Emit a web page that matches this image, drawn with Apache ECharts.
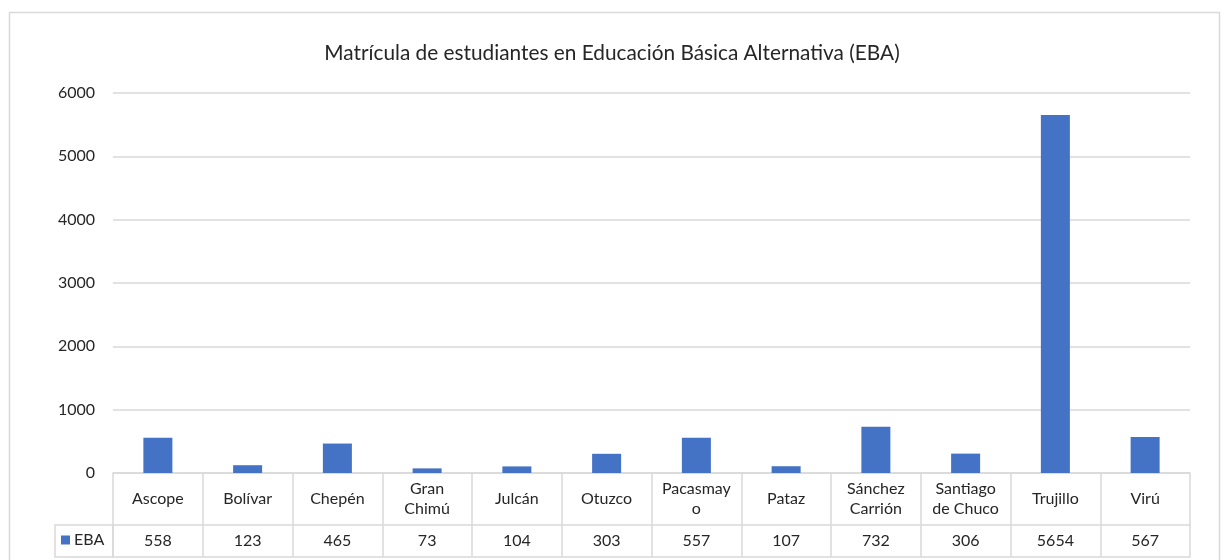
<!DOCTYPE html>
<html>
<head>
<meta charset="utf-8">
<script src="https://cdn.jsdelivr.net/npm/echarts@6/dist/echarts.min.js"></script>
<style>
  html, body { margin: 0; padding: 0; background: #fff; }
  #chart { width: 1224px; height: 560px; }
</style>
</head>
<body>
<div id="chart"></div>
<script>
// Provinces of La Libertad (display labels, wrapped as in the data table)
const categories = ['Ascope', 'Bolívar', 'Chepén', 'Gran\nChimú', 'Julcán', 'Otuzco',
  'Pacasmay\no', 'Pataz', 'Sánchez\nCarrión', 'Santiago\nde Chuco', 'Trujillo', 'Virú'];
// EBA enrolment per province
const ebaValues = [558, 123, 465, 73, 104, 303, 557, 107, 732, 306, 5654, 567];
const seriesName = 'EBA';
const yTicks = [0, 1000, 2000, 3000, 4000, 5000, 6000];

const FONT = 'Lato, "Noto Sans", sans-serif';
const LINE = '#d9d9d9';
const TEXT = '#262626';

const chart = echarts.init(document.getElementById('chart'), null, { renderer: 'canvas' });

chart.setOption({
  animation: false,
  backgroundColor: '#fff',
  textStyle: { fontFamily: FONT },
  title: {
    text: 'Matrícula de estudiantes en Educación Básica Alternativa (EBA)',
    left: 'center',
    top: 38,
    textStyle: { fontFamily: FONT, fontSize: 20.8, fontWeight: 'normal', color: '#262626' }
  },
  legend: {
    data: [seriesName],
    left: 61,
    top: 532,
    icon: 'rect',
    itemWidth: 9,
    itemHeight: 9,
    itemGap: 4,
    padding: 0,
    textStyle: { fontFamily: FONT, fontSize: 16, color: TEXT, padding: [0, 0, 0, -1] }
  },
  grid: { left: 113, right: 34, top: 93, bottom: 87, containLabel: false },
  yAxis: {
    type: 'value',
    min: yTicks[0],
    max: yTicks[yTicks.length - 1],
    interval: 1000,
    axisLine: { show: false },
    axisTick: { show: false },
    axisLabel: { margin: 18, fontFamily: FONT, fontSize: 16, color: TEXT, formatter: v => String(v) },
    splitLine: { lineStyle: { color: LINE, width: 1.5 } }
  },
  xAxis: [
    {
      // category row of the data table
      type: 'category',
      data: categories,
      position: 'bottom',
      axisLine: { lineStyle: { color: LINE, width: 1.5 } },
      axisTick: { show: true, length: 84, lineStyle: { color: LINE, width: 1.5 } },
      axisLabel: {
        interval: 0, margin: 26, verticalAlign: 'middle', lineHeight: 20,
        fontFamily: FONT, fontSize: 16, color: TEXT
      }
    },
    {
      // value row of the data table
      type: 'category',
      data: categories,
      position: 'bottom',
      offset: 52,
      axisLine: { lineStyle: { color: LINE, width: 1.5 } },
      axisTick: { show: false },
      axisLabel: {
        interval: 0, margin: 16, verticalAlign: 'middle',
        fontFamily: FONT, fontSize: 16, color: TEXT,
        formatter: (v, i) => String(ebaValues[i])
      }
    },
    {
      // bottom border of the data table
      type: 'category',
      data: categories,
      position: 'bottom',
      offset: 84,
      axisLine: { lineStyle: { color: LINE, width: 1.5 } },
      axisTick: { show: false },
      axisLabel: { show: false }
    }
  ],
  series: [{
    name: seriesName,
    type: 'bar',
    xAxisIndex: 0,
    data: ebaValues,
    barWidth: 29,
    itemStyle: { color: '#4472c4' }
  }],
  graphic: [
    // outer chart border
    { type: 'rect', shape: { x: 9.5, y: 12.5, width: 1210, height: 560 },
      style: { fill: 'none', stroke: LINE, lineWidth: 1.5 }, silent: true },
    // legend key cell of the data table
    { type: 'rect', shape: { x: 55, y: 525, width: 58, height: 32 },
      style: { fill: 'none', stroke: LINE, lineWidth: 1.5 }, silent: true }
  ]
});
</script>
</body>
</html>
